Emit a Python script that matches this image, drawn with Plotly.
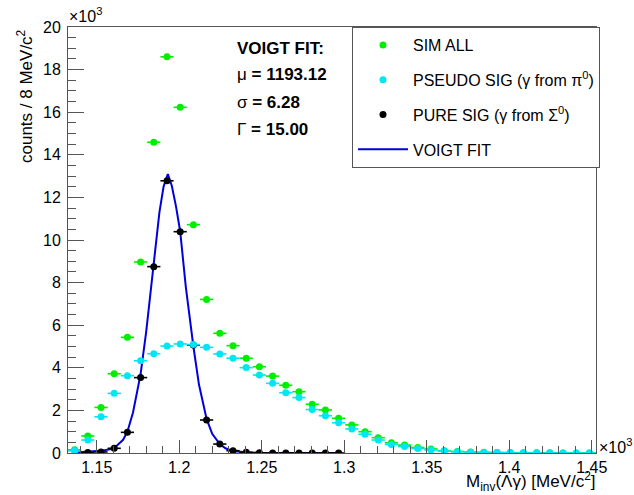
import plotly.graph_objects as go

# ---------------- data ----------------
# bin centres of the 8 MeV/c^2 bins (MeV/c^2)
mass_mev = [1136.6, 1144.6, 1152.6, 1160.6, 1168.6, 1176.6, 1184.6, 1192.6,
            1200.6, 1208.6, 1216.6, 1224.6, 1232.6, 1240.6, 1248.6, 1256.6,
            1264.6, 1272.6, 1280.6, 1288.6, 1296.6, 1304.6, 1312.6, 1320.6,
            1328.6, 1336.6, 1344.6, 1352.6, 1360.6, 1368.6, 1376.6, 1384.6,
            1392.6, 1400.6, 1408.6, 1416.6, 1424.6, 1432.6, 1440.6, 1448.6]

sim_all = [150, 800, 2140, 3720, 5430, 8970, 14590, 18600,
           16230, 10720, 7210, 5620, 5040, 4450, 4050, 3610,
           3180, 2880, 2290, 2020, 1630, 1320, 1000, 720,
           480, 370, 260, 190, 110, 70, 45, 35,
           25, 18, 14, 10, 8, 5, 4, 3]

pseudo_sig = [100, 610, 1700, 2800, 3630, 4330, 4660, 5020,
              5120, 5090, 4960, 4650, 4450, 4010, 3660, 3270,
              2830, 2600, 2040, 1750, 1420, 1130, 880, 610,
              400, 300, 210, 140, 90, 60, 35, 25,
              18, 12, 9, 6, 4, 3, 2, 1]

pure_mass = [1144.6, 1152.6, 1160.6, 1168.6, 1176.6, 1184.6, 1192.6, 1200.6,
             1208.6, 1216.6, 1224.6, 1232.6, 1240.6, 1248.6, 1256.6, 1264.6,
             1272.6, 1280.6, 1288.6, 1296.6]
pure_sig = [20, 50, 220, 970, 3540, 8750, 12780, 10390,
            5070, 1550, 420, 110, 30, 10, 5, 3,
            2, 1, 1, 0]

# Voigt fit curve
fit_mass = [1136.6, 1144.6, 1152.6, 1158.0, 1162.0, 1166.0, 1168.6, 1172.0,
            1176.6, 1180.0, 1184.6, 1188.0, 1190.5, 1193.1, 1195.5, 1198.0,
            1200.6, 1204.0, 1208.6, 1212.0, 1216.6, 1220.0, 1224.6, 1228.0,
            1232.6, 1240.0, 1250.0, 1270.0, 1296.6]
fit_counts = [20, 50, 100, 180, 330, 620, 1000, 1900,
              3700, 5700, 8800, 11300, 12500, 13100, 12550, 11600,
              10400, 7800, 5000, 3200, 1600, 900, 420, 220,
              90, 30, 10, 3, 0]

bin_half_width = 4.0

x_tick_vals = [1150, 1200, 1250, 1300, 1350, 1400, 1450]
x_tick_text = ["1.15", "1.2", "1.25", "1.3", "1.35", "1.4", "1.45"]
y_tick_vals = [0, 2000, 4000, 6000, 8000, 10000, 12000, 14000, 16000, 18000, 20000]
y_tick_text = ["0", "2", "4", "6", "8", "10", "12", "14", "16", "18", "20"]

fit_text = ["<b>VOIGT FIT:</b>", "\u03bc <b>= 1193.12</b>",
            "\u03c3 <b>= 6.28</b>", "\u0393 <b>= 15.00</b>"]

series_names = ["SIM ALL", "PSEUDO SIG (\u03b3 from \u03c0<sup>0</sup>)",
                "PURE SIG (\u03b3 from \u03a3<sup>0</sup>)", "VOIGT FIT"]

# ---------------- styling ----------------
FONT = "Liberation Sans, Arial, Helvetica, sans-serif"
GREEN = "#00ee00"
CYAN = "#00e6f2"
BLACK = "#000000"
BLUE = "#0000dd"
AXIS = "#555555"

W, H = 634, 495
L, R, T, B = 68, 38, 27, 42
PW, PH = W - L - R, H - T - B


def px_x(px):
    return (px - L) / PW


def px_y(py):
    return (H - B - py) / PH


fig = go.Figure()

fig.add_trace(go.Scatter(
    x=fit_mass, y=fit_counts, mode="lines", name=series_names[3],
    line=dict(color=BLUE, width=2), legendgroup="d", legendrank=4))

fig.add_trace(go.Scatter(
    x=mass_mev, y=sim_all, mode="markers", name=series_names[0],
    marker=dict(color=GREEN, size=7),
    error_x=dict(type="constant", value=bin_half_width, width=0,
                 thickness=1.6, color=GREEN),
    legendgroup="a", legendrank=1))

fig.add_trace(go.Scatter(
    x=pure_mass, y=pure_sig, mode="markers", name=series_names[2],
    marker=dict(color=BLACK, size=7),
    error_x=dict(type="constant", value=bin_half_width, width=0,
                 thickness=1.6, color=BLACK),
    legendgroup="c", legendrank=3))

fig.add_trace(go.Scatter(
    x=mass_mev, y=pseudo_sig, mode="markers", name=series_names[1],
    marker=dict(color=CYAN, size=7),
    error_x=dict(type="constant", value=bin_half_width, width=0,
                 thickness=1.6, color=CYAN),
    legendgroup="b", legendrank=2))

annotations = [
    dict(text="counts / 8 MeV/c<sup>2</sup>", textangle=-90,
         xref="paper", yref="paper", x=px_x(25), y=1.0,
         xanchor="center", yanchor="top", showarrow=False,
         font=dict(family=FONT, size=17, color="black")),
    dict(text="M<sub>inv</sub>(\u039b\u03b3) [MeV/c<sup>2</sup>]",
         xref="paper", yref="paper", x=px_x(598), y=px_y(481),
         xanchor="right", yanchor="middle", showarrow=False,
         font=dict(family=FONT, size=17, color="black")),
    dict(text="\u00d710<sup>3</sup>", xref="paper", yref="paper",
         x=px_x(67), y=1.0, xanchor="left", yanchor="bottom",
         showarrow=False, font=dict(family=FONT, size=16, color="black")),
    dict(text="\u00d710<sup>3</sup>", xref="paper", yref="paper",
         x=px_x(597), y=px_y(446), xanchor="left", yanchor="middle",
         showarrow=False, font=dict(family=FONT, size=16, color="black")),
]
for line_text, py in zip(fit_text, [48, 75, 102, 129]):
    annotations.append(dict(
        text=line_text, xref="paper", yref="paper", x=px_x(235), y=px_y(py),
        xanchor="left", yanchor="middle", showarrow=False,
        font=dict(family=FONT, size=17, color="black")))

fig.update_layout(
    width=W, height=H,
    margin=dict(l=L, r=R, t=T, b=B, pad=0),
    paper_bgcolor="white", plot_bgcolor="white",
    font=dict(family=FONT, size=16, color="black"),
    showlegend=True,
    legend=dict(
        x=px_x(352), y=1.0, xanchor="left", yanchor="top",
        bgcolor="white", bordercolor=AXIS, borderwidth=1,
        font=dict(family=FONT, size=16, color="black"),
        itemwidth=50, tracegroupgap=11, traceorder="grouped",
    ),
    annotations=annotations,
    xaxis=dict(
        range=[1132.6, 1452.6], showgrid=False, zeroline=False,
        showline=True, linecolor=AXIS, linewidth=1, mirror=True,
        ticks="inside", ticklen=13, tickcolor=AXIS, tickwidth=1,
        tickvals=x_tick_vals, ticktext=x_tick_text,
        tickfont=dict(family=FONT, size=16, color="black"),
        minor=dict(ticks="inside", ticklen=7, dtick=10, tick0=1150,
                   tickcolor=AXIS, tickwidth=1, showgrid=False),
    ),
    yaxis=dict(
        range=[0, 20000], showgrid=False, zeroline=False,
        showline=True, linecolor=AXIS, linewidth=1, mirror=True,
        ticks="inside", ticklen=16, tickcolor=AXIS, tickwidth=1,
        tickvals=y_tick_vals, ticktext=y_tick_text,
        tickfont=dict(family=FONT, size=16, color="black"),
        ticklabelstandoff=3,
        minor=dict(ticks="inside", ticklen=8, dtick=500, tick0=0,
                   tickcolor=AXIS, tickwidth=1, showgrid=False),
    ),
)

fig.write_html("out.html",
               config={"displayModeBar": False},
               post_script="document.body.style.margin='0px';"
                           "document.body.style.padding='0px';")
